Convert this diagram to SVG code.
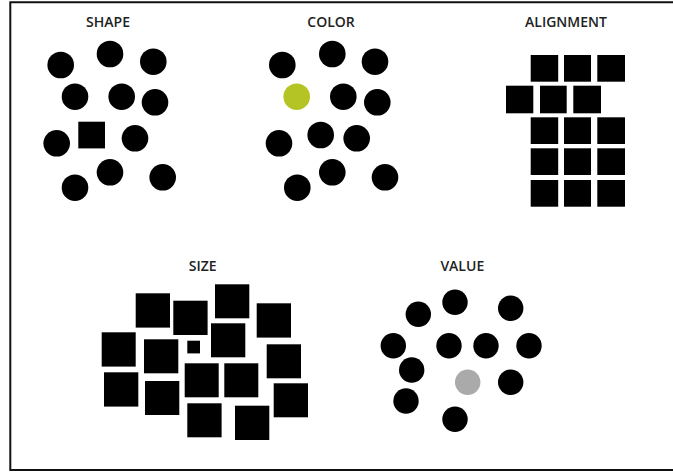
<svg xmlns="http://www.w3.org/2000/svg" width="673" height="472" viewBox="0 0 673 472">
<style>
.t{font-family:"Open Sans","Liberation Sans",sans-serif;font-size:14px;font-weight:600;fill:#222;text-anchor:middle}
.c{fill:#000}
.s{fill:#000}
</style>
<rect width="673" height="472" fill="#fff"/>
<path d="M673,2.3 H10.3 V470 H673" fill="none" stroke="#111" stroke-width="2"/>
<g id="shape">
<text class="t" x="108" y="27">SHAPE</text>
<circle class="c" cx="60.7" cy="65" r="13.3"/>
<circle class="c" cx="110" cy="54" r="13.3"/>
<circle class="c" cx="153.3" cy="61.7" r="13.3"/>
<circle class="c" cx="75" cy="96.7" r="13.3"/>
<circle class="c" cx="121.7" cy="96.7" r="13.3"/>
<circle class="c" cx="155" cy="102.3" r="13.3"/>
<circle class="c" cx="56.7" cy="143.3" r="13.3"/>
<rect class="s" x="78.3" y="121.7" width="26.7" height="26.7"/>
<circle class="c" cx="135" cy="138.3" r="13.3"/>
<circle class="c" cx="110" cy="172.3" r="13.3"/>
<circle class="c" cx="75" cy="187.7" r="13.3"/>
<circle class="c" cx="162.7" cy="177.3" r="13.3"/>
</g>
<g id="color">
<text class="t" x="331" y="27">COLOR</text>
<circle class="c" cx="282.3" cy="65" r="13.3"/>
<circle class="c" cx="332.3" cy="54" r="13.3"/>
<circle class="c" cx="375" cy="61.7" r="13.3"/>
<circle cx="296.7" cy="96.7" r="13.3" fill="#b5c425"/>
<circle class="c" cx="343.3" cy="96.7" r="13.3"/>
<circle class="c" cx="377.3" cy="102.3" r="13.3"/>
<circle class="c" cx="279" cy="143.3" r="13.3"/>
<circle class="c" cx="320.7" cy="135" r="13.3"/>
<circle class="c" cx="356.7" cy="138.3" r="13.3"/>
<circle class="c" cx="332.3" cy="172.3" r="13.3"/>
<circle class="c" cx="297.3" cy="187.7" r="13.3"/>
<circle class="c" cx="385" cy="177.3" r="13.3"/>
</g>
<g id="alignment">
<text class="t" x="566" y="27">ALIGNMENT</text>
<rect class="s" x="530.7" y="55" width="27.5" height="26.7"/>
<rect class="s" x="564" y="55" width="27" height="26.7"/>
<rect class="s" x="597.3" y="55" width="27.7" height="26.7"/>
<rect class="s" x="506" y="85.7" width="27.3" height="27.6"/>
<rect class="s" x="540" y="85.7" width="26.7" height="27.6"/>
<rect class="s" x="573.3" y="85.7" width="27.7" height="27.6"/>
<rect class="s" x="530.7" y="117.3" width="27.5" height="26.7"/>
<rect class="s" x="564" y="117.3" width="27" height="26.7"/>
<rect class="s" x="597.3" y="117.3" width="27.7" height="26.7"/>
<rect class="s" x="530.7" y="148.3" width="27.5" height="26.7"/>
<rect class="s" x="564" y="148.3" width="27" height="26.7"/>
<rect class="s" x="597.3" y="148.3" width="27.7" height="26.7"/>
<rect class="s" x="530.7" y="180" width="27.5" height="26.7"/>
<rect class="s" x="564" y="180" width="27" height="26.7"/>
<rect class="s" x="597.3" y="180" width="27.7" height="26.7"/>
</g>
<g id="size">
<text class="t" x="202.7" y="270.7">SIZE</text>
<rect class="s" x="135.7" y="293.3" width="34.3" height="34.3"/>
<rect class="s" x="173.3" y="300.7" width="34.3" height="34.3"/>
<rect class="s" x="215" y="284.3" width="34.3" height="34"/>
<rect class="s" x="256.7" y="303.3" width="34.3" height="34.3"/>
<rect class="s" x="101.7" y="332.3" width="34" height="34.3"/>
<rect class="s" x="144" y="339.3" width="34.3" height="34"/>
<rect class="s" x="187.3" y="340.7" width="12.7" height="12.7"/>
<rect class="s" x="211" y="323.3" width="34.3" height="34"/>
<rect class="s" x="266.7" y="344.3" width="34.3" height="34"/>
<rect class="s" x="104" y="372.3" width="34.3" height="34.3"/>
<rect class="s" x="145" y="381" width="34.3" height="34"/>
<rect class="s" x="184.7" y="363.3" width="34" height="34"/>
<rect class="s" x="224.3" y="363.3" width="34" height="34"/>
<rect class="s" x="273.7" y="383.3" width="34.3" height="34"/>
<rect class="s" x="187.3" y="403.3" width="34.3" height="34"/>
<rect class="s" x="235" y="405.7" width="34.3" height="34.3"/>
</g>
<g id="value">
<text class="t" x="462.3" y="270.7">VALUE</text>
<circle class="c" cx="418.3" cy="314.3" r="12.7"/>
<circle class="c" cx="455" cy="302.3" r="12.7"/>
<circle class="c" cx="510.7" cy="308.3" r="12.7"/>
<circle class="c" cx="393.3" cy="345.7" r="12.7"/>
<circle class="c" cx="449" cy="345.7" r="12.7"/>
<circle class="c" cx="486" cy="345.7" r="12.7"/>
<circle class="c" cx="529" cy="345.7" r="12.7"/>
<circle class="c" cx="411.7" cy="370" r="12.7"/>
<circle cx="467.7" cy="382.3" r="12.7" fill="#aaaaaa"/>
<circle class="c" cx="510.7" cy="382.3" r="12.7"/>
<circle class="c" cx="406" cy="401" r="12.7"/>
<circle class="c" cx="455" cy="419.3" r="12.7"/>
</g>
<g id="connectors"/>
</svg>
